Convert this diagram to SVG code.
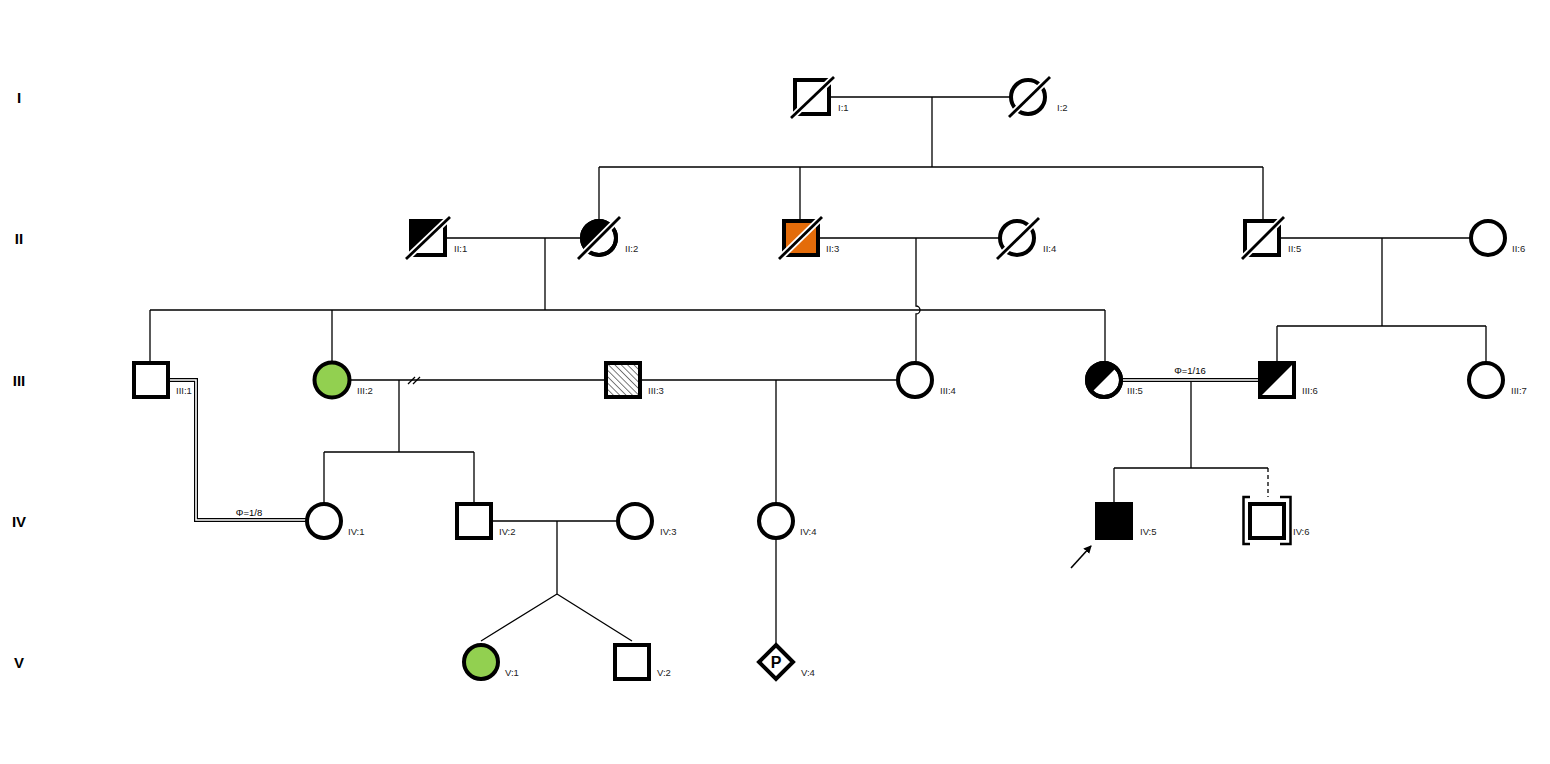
<svg xmlns="http://www.w3.org/2000/svg" width="1550" height="764" viewBox="0 0 1550 764">
<defs>
<style>
.sym{fill:#fff;stroke:#000;stroke-width:4}
.ln{stroke:#000;stroke-width:1.3;fill:none}
.halo{stroke:#fff;stroke-width:6.5;fill:none}
.strike{stroke:#000;stroke-width:2.8;fill:none}
.lbl{font-family:"Liberation Sans",Arial,sans-serif;font-size:9.5px;fill:#222}
.gen{font-family:"Liberation Sans",Arial,sans-serif;font-size:15px;font-weight:bold;fill:#000;text-anchor:middle}
.phi{font-family:"Liberation Sans",Arial,sans-serif;font-size:9.5px;fill:#000;text-anchor:middle}
</style>
<pattern id="hatch" patternUnits="userSpaceOnUse" width="4.5" height="4.5" patternTransform="rotate(-45)">
<line x1="0" y1="0" x2="0" y2="4.5" stroke="#111" stroke-width="1.1"/>
</pattern>
<marker id="arr" markerWidth="8" markerHeight="8" refX="7" refY="4" orient="auto" markerUnits="userSpaceOnUse">
<path d="M0,0 L8,4 L0,8 Z" fill="#000"/>
</marker>
</defs>
<rect width="1550" height="764" fill="#fff"/>

<g id="generations">
<text class="gen" x="19" y="103">I</text>
<text class="gen" x="19" y="244">II</text>
<text class="gen" x="19" y="386">III</text>
<text class="gen" x="19" y="527">IV</text>
<text class="gen" x="19" y="668">V</text>
</g>

<g id="connectors">
<path class="ln" d="M830 97 H1011 M932 97 V167 M599 167 H1263 M599 167 V221 M800 167 V221 M1263 167 V221"/>
<path class="ln" d="M446 238 H582 M545 238 V310 M150 310 H1105 M150 310 V363 M332 310 V363 M1105 310 V363"/>
<path class="ln" d="M818 238 H1000 M916 238 V306 A4 4 0 0 1 916 314 V363"/>
<path class="ln" d="M1280 238 H1471 M1382 238 V326 M1277 326 H1486 M1277 326 V363 M1486 326 V363"/>
<path d="M168 380 H196 V520 H307" fill="none" stroke="#000" stroke-width="4"/>
<path d="M166 380 H196 V520 H309" fill="none" stroke="#fff" stroke-width="1.6"/>
<text class="phi" x="249" y="516">Φ=1/8</text>
<path class="ln" d="M349 380 H605 M399 380 V452 M324 452 H474 M324 452 V503 M474 452 V503"/>
<path class="ln" d="M408 384 L415 377 M413 384 L420 377"/>
<path class="ln" d="M641 380 H898 M776 380 V503"/>
<path d="M1121 380 H1259" fill="none" stroke="#000" stroke-width="4"/>
<path d="M1119 380 H1261" fill="none" stroke="#fff" stroke-width="1.6"/>
<text class="phi" x="1190" y="374">Φ=1/16</text>
<path class="ln" d="M1191 381 V468 M1114 468 H1268 M1114 468 V503"/>
<path class="ln" d="M1268 468 V497" stroke-dasharray="4 3"/>
<path class="ln" d="M492 521 H617 M557 521 V594 M557 594 L481 641 M557 594 L632 641"/>
<path class="ln" d="M776 539 V643"/>
<line x1="1071" y1="568" x2="1091" y2="546" stroke="#000" stroke-width="1.6" marker-end="url(#arr)"/>
</g>

<g id="I-1" transform="translate(812,97)">
<rect class="sym" x="-17" y="-17" width="34" height="34"/>
<line class="halo" x1="-21" y1="21" x2="22" y2="-20"/>
<line class="strike" x1="-21" y1="21" x2="22" y2="-20"/>
<text class="lbl" x="26" y="14">I:1</text>
</g>
<g id="I-2" transform="translate(1028,97)">
<circle class="sym" r="17"/>
<line class="halo" x1="-19" y1="20" x2="22" y2="-20"/>
<line class="strike" x1="-19" y1="20" x2="22" y2="-20"/>
<text class="lbl" x="29" y="14">I:2</text>
</g>

<g id="II-1" transform="translate(428,238)">
<rect class="sym" x="-17" y="-17" width="34" height="34"/>
<path d="M-17,-17 H17 L-17,17 Z" fill="#000"/>
<rect x="-17" y="-17" width="34" height="34" fill="none" stroke="#000" stroke-width="4"/>
<line class="halo" x1="-22" y1="21" x2="22" y2="-21"/>
<line class="strike" x1="-22" y1="21" x2="22" y2="-21"/>
<text class="lbl" x="26" y="14">II:1</text>
</g>
<g id="II-2" transform="translate(599,238)">
<circle class="sym" r="17"/>
<path d="M-12.02,12.02 A17 17 0 0 1 12.02,-12.02 Z" fill="#000"/>
<circle r="17" fill="none" stroke="#000" stroke-width="4"/>
<line class="halo" x1="-21" y1="21" x2="21" y2="-21"/>
<line class="strike" x1="-21" y1="21" x2="21" y2="-21"/>
<text class="lbl" x="26" y="14">II:2</text>
</g>
<g id="II-3" transform="translate(801,238)">
<rect class="sym" x="-17" y="-17" width="34" height="34" style="fill:#E46C0A"/>
<line class="halo" x1="-22" y1="21" x2="21" y2="-21"/>
<line class="strike" x1="-22" y1="21" x2="21" y2="-21"/>
<text class="lbl" x="25" y="14">II:3</text>
</g>
<g id="II-4" transform="translate(1017,238)">
<circle class="sym" r="17"/>
<line class="halo" x1="-20" y1="21" x2="22" y2="-20"/>
<line class="strike" x1="-20" y1="21" x2="22" y2="-20"/>
<text class="lbl" x="26" y="14">II:4</text>
</g>
<g id="II-5" transform="translate(1262,238)">
<rect class="sym" x="-17" y="-17" width="34" height="34"/>
<line class="halo" x1="-20" y1="21" x2="22" y2="-21"/>
<line class="strike" x1="-20" y1="21" x2="22" y2="-21"/>
<text class="lbl" x="26" y="14">II:5</text>
</g>
<g id="II-6" transform="translate(1488,238)">
<circle class="sym" r="17"/>
<text class="lbl" x="24" y="14">II:6</text>
</g>

<g id="III-1" transform="translate(151,380)">
<rect class="sym" x="-17" y="-17" width="34" height="34"/>
<text class="lbl" x="25" y="14">III:1</text>
</g>
<g id="III-2" transform="translate(332,380)">
<circle class="sym" r="17.5" style="fill:#92D050"/>
<text class="lbl" x="25" y="14">III:2</text>
</g>
<g id="III-3" transform="translate(623,380)">
<rect class="sym" x="-17" y="-17" width="34" height="34" style="fill:url(#hatch)"/>
<text class="lbl" x="25" y="14">III:3</text>
</g>
<g id="III-4" transform="translate(915,380)">
<circle class="sym" r="17"/>
<text class="lbl" x="25" y="14">III:4</text>
</g>
<g id="III-5" transform="translate(1104,380)">
<circle class="sym" r="17"/>
<path d="M-12.02,12.02 A17 17 0 0 1 12.02,-12.02 Z" fill="#000"/>
<circle r="17" fill="none" stroke="#000" stroke-width="4"/>
<text class="lbl" x="23" y="14">III:5</text>
</g>
<g id="III-6" transform="translate(1277,380)">
<rect class="sym" x="-17" y="-17" width="34" height="34"/>
<path d="M-17,-17 H17 L-17,17 Z" fill="#000"/>
<rect x="-17" y="-17" width="34" height="34" fill="none" stroke="#000" stroke-width="4"/>
<text class="lbl" x="25" y="14">III:6</text>
</g>
<g id="III-7" transform="translate(1486,380)">
<circle class="sym" r="17"/>
<text class="lbl" x="25" y="14">III:7</text>
</g>

<g id="IV-1" transform="translate(324,521)">
<circle class="sym" r="17"/>
<text class="lbl" x="24" y="14">IV:1</text>
</g>
<g id="IV-2" transform="translate(474,521)">
<rect class="sym" x="-17" y="-17" width="34" height="34"/>
<text class="lbl" x="25" y="14">IV:2</text>
</g>
<g id="IV-3" transform="translate(635,521)">
<circle class="sym" r="17"/>
<text class="lbl" x="25" y="14">IV:3</text>
</g>
<g id="IV-4" transform="translate(776,521)">
<circle class="sym" r="17"/>
<text class="lbl" x="24" y="14">IV:4</text>
</g>
<g id="IV-5" transform="translate(1114,521)">
<rect class="sym" x="-17" y="-17" width="34" height="34" style="fill:#000"/>
<text class="lbl" x="26" y="14">IV:5</text>
</g>
<g id="IV-6" transform="translate(1267,521)">
<rect class="sym" x="-17" y="-17" width="34" height="34"/>
<path d="M-17,-24 H-23.5 V23 H-17" fill="none" stroke="#000" stroke-width="2.5"/>
<path d="M13,-24 H23.5 V23 H13" fill="none" stroke="#000" stroke-width="2.5"/>
<text class="lbl" x="26" y="14">IV:6</text>
</g>

<g id="V-1" transform="translate(481,662)">
<circle class="sym" r="17" style="fill:#92D050"/>
<text class="lbl" x="24" y="14">V:1</text>
</g>
<g id="V-2" transform="translate(632,662)">
<rect class="sym" x="-17" y="-17" width="34" height="34"/>
<text class="lbl" x="25" y="14">V:2</text>
</g>
<g id="V-4" transform="translate(776,662)">
<path class="sym" d="M0,-17 L17,0 L0,17 L-17,0 Z"/>
<text x="0" y="6" text-anchor="middle" style="font-family:'Liberation Sans',Arial,sans-serif;font-size:16px;font-weight:bold;fill:#000">P</text>
<text class="lbl" x="25" y="14">V:4</text>
</g>
</svg>
